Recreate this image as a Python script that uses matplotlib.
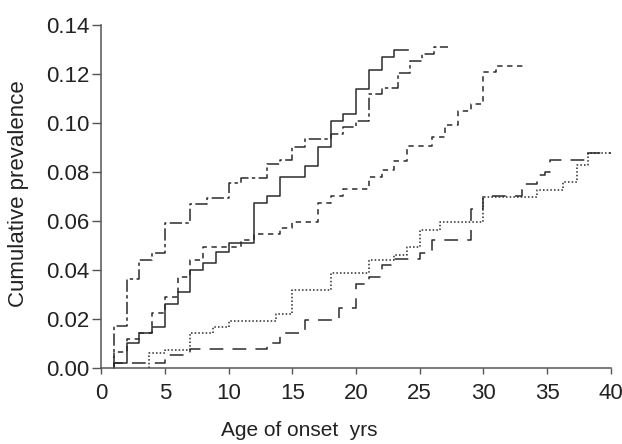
import numpy as np
import matplotlib
matplotlib.use("Agg")
import matplotlib.pyplot as plt

plt.rcParams["font.family"] = ["Liberation Sans", "DejaVu Sans"]

# step positions (age, years) and cumulative prevalence after each step
solid_age = [1, 2, 3, 4, 5, 6, 7, 8, 9, 10, 12, 13, 14, 16, 17, 18, 19, 20, 21, 22, 23]
solid_val = [0.0023, 0.0102, 0.0145, 0.017, 0.0262, 0.031, 0.0401, 0.0429, 0.0476, 0.0512,
             0.0675, 0.0702, 0.078, 0.0827, 0.0904, 0.1008, 0.1037, 0.114, 0.1218, 0.1268, 0.1296]
solid_end = 24.1

dashdot_age = [1, 2, 3, 4, 5, 7, 8.3, 10, 11, 13, 14, 15, 16, 18, 19, 20, 21, 22, 23.3, 24.2, 25.2, 26.1]
dashdot_val = [0.0173, 0.0363, 0.0442, 0.047, 0.0592, 0.067, 0.0696, 0.0756, 0.0776, 0.0833, 0.0851,
               0.0904, 0.0935, 0.0956, 0.0986, 0.101, 0.1118, 0.1143, 0.1204, 0.1254, 0.1282, 0.1309]
dashdot_end = 27.2

dash_age = [1, 2, 3, 4, 5, 6, 7, 8, 11, 12, 14, 15, 17, 18, 19, 21, 22, 23, 24, 26, 27, 28, 29, 30, 31]
dash_val = [0.0068, 0.0118, 0.0145, 0.0224, 0.0292, 0.0374, 0.0442, 0.0494, 0.0524, 0.0547, 0.0574,
            0.0598, 0.0673, 0.0703, 0.0731, 0.0782, 0.081, 0.0845, 0.0908, 0.0944, 0.0993, 0.105,
            0.1079, 0.1207, 0.1234]
dash_end = 33.3

dot_age = [3.8, 3.8, 5, 7, 8.8, 10, 13.7, 15, 18, 21, 23, 24, 25, 26.6, 30, 34.2, 36.2, 37.3, 38.2]
dot_val = [0.0023, 0.0061, 0.0075, 0.0145, 0.017, 0.0194, 0.022, 0.032, 0.039, 0.0442, 0.0462,
           0.0496, 0.0564, 0.0598, 0.070, 0.0728, 0.0758, 0.083, 0.088]
dot_end = 40

longdash_age = [1, 5, 7, 13, 14, 16, 18.7, 20, 21, 22, 23, 25, 26, 29, 30, 33, 34.2, 34.8, 35.2, 38.2]
longdash_val = [0.0023, 0.0055, 0.0079, 0.0102, 0.0145, 0.0197, 0.0247, 0.0344, 0.0371, 0.0422,
                0.0445, 0.047, 0.0524, 0.0649, 0.0704, 0.0753, 0.0789, 0.0802, 0.085, 0.088]
longdash_end = 40

x_ticks = [0, 5, 10, 15, 20, 25, 30, 35, 40]
y_ticks = [0.00, 0.02, 0.04, 0.06, 0.08, 0.10, 0.12, 0.14]

LINE = "#2b2b2b"
TEXT = "#222222"
CURVES = [
    (solid_age, solid_val, solid_end, "-"),
    (dashdot_age, dashdot_val, dashdot_end, (0, (8, 2.2, 2.2, 2.2))),
    (dash_age, dash_val, dash_end, (0, (3.5, 3))),
    (dot_age, dot_val, dot_end, (0, (1, 1.4))),
    (longdash_age, longdash_val, longdash_end, (0, (9, 6))),
]


def step_xy(ages, vals, end):
    x = [ages[0]] + list(ages) + [end]
    y = [0.0] + list(vals) + [vals[-1]]
    return np.array(x), np.array(y)


fig = plt.figure(figsize=(6.22, 4.44), dpi=100)
ax = fig.add_axes([0.1624, 0.1705, 0.8199, 0.7732])

for ages, vals, end, ls in CURVES:
    x, y = step_xy(ages, vals, end)
    ax.step(x, y, where="post", color=LINE, lw=1.1, ls=ls, clip_on=False)

ax.set_xlim(0, 40)
ax.set_ylim(0, 0.14)
ax.set_xticks(x_ticks)
ax.set_yticks(y_ticks)
ax.set_yticklabels([f"{v:.2f}" for v in y_ticks])

for side in ("top", "right"):
    ax.spines[side].set_visible(False)
for side in ("left", "bottom"):
    ax.spines[side].set_color("#555555")
    ax.spines[side].set_linewidth(1.1)
ax.tick_params(direction="out", width=1.0, color="#555555",
               labelsize=16, labelcolor=TEXT)
ax.tick_params(axis="x", length=4.5, pad=6)
ax.tick_params(axis="y", length=6.5, pad=2)

ax.set_xlabel("Age of onset  yrs", fontsize=15, color=TEXT)
ax.xaxis.label.set_va("center")
ax.xaxis.set_label_coords(0.388, -0.18)
ax.set_ylabel("Cumulative prevalence", fontsize=16, color=TEXT)
ax.yaxis.label.set_va("center")
ax.yaxis.set_label_coords(-0.161, 0.51)

fig.savefig("out.png", dpi=100)
